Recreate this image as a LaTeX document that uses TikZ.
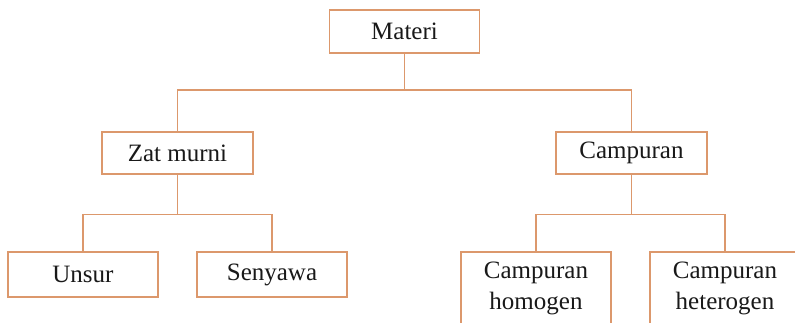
\documentclass[tikz,border=0pt]{standalone}
\usepackage{fontspec}
\setmainfont{Liberation Serif}
\definecolor{linec}{RGB}{220,152,108}
\begin{document}
\begin{tikzpicture}[x=1pt,y=-1pt,
  box/.style={draw=linec,line width=1.5pt,fill=white,minimum width=150pt,inner sep=0pt,
    font=\fontsize{25}{31}\selectfont,text=black!90,align=center},
  conn/.style={draw=linec,line width=1.5pt}]
\useasboundingbox (0,0) rectangle (795,323);
\clip (0,0) rectangle (795,323);
\node[box,minimum height=43pt] (materi) at (404.5,31.5) {Materi};
\node[box,minimum width=151pt,minimum height=42pt] (zat) at (177.5,153) {Zat murni};
\node[box,minimum width=151pt,minimum height=42pt] (camp) at (631.5,153) {Campuran};
\node[box,minimum height=45pt] (unsur) at (83,274.5) {Unsur};
\node[box,minimum height=45pt] (senyawa) at (272,274.5) {Senyawa};
\node[box,minimum height=72pt] (homo) at (536,288) {Campuran\\homogen};
\node[box,minimum height=72pt] (hetero) at (725,288) {Campuran\\heterogen};
\coordinate (j1) at (404.5,90);
\coordinate (j2) at (177.5,214.5);
\coordinate (j3) at (631.5,214.5);
\draw[conn] (materi.south) -- (j1);
\draw[conn] (j1) -| (zat.north);
\draw[conn] (j1) -| (camp.north);
\draw[conn] (zat.south) -- (j2);
\draw[conn] (j2) -| (unsur.north);
\draw[conn] (j2) -| (senyawa.north);
\draw[conn] (camp.south) -- (j3);
\draw[conn] (j3) -| (homo.north);
\draw[conn] (j3) -| (hetero.north);
\end{tikzpicture}
\end{document}
